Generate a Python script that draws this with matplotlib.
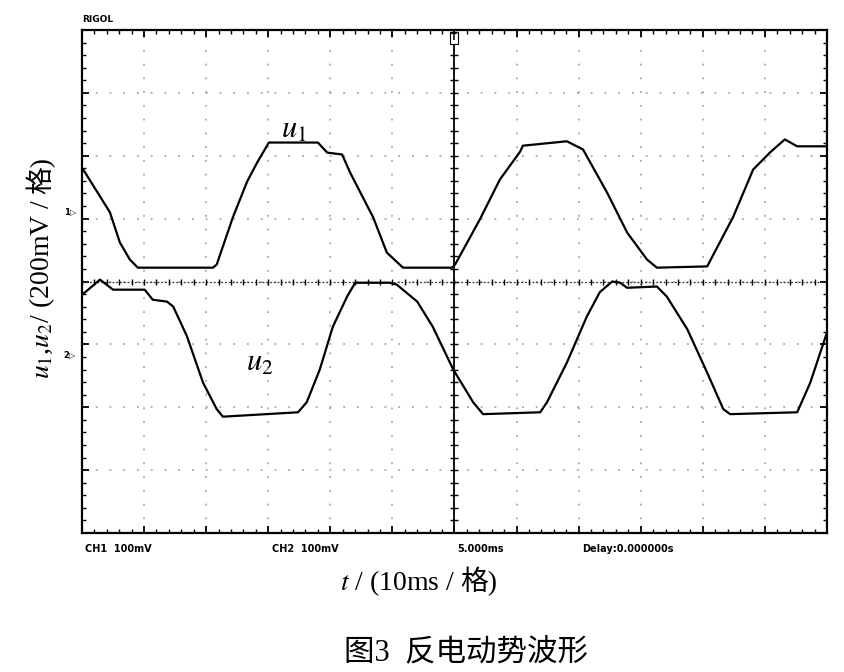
import numpy as np
import matplotlib
matplotlib.use("Agg")
import matplotlib.pyplot as plt

# ================= data (oscilloscope divisions) =================
# x: 0..12 div (10 ms/div), y: -4..4 div (200 mV/div)
u1_t = [0.02, 0.45, 0.61, 0.77, 0.90, 2.11, 2.17, 2.43, 2.66, 2.82, 3.01, 3.80,
        3.95, 4.19, 4.32, 4.69, 4.91, 5.17, 5.96, 6.01, 6.41, 6.73, 7.06, 7.10,
        7.81, 8.07, 8.46, 8.78, 9.10, 9.26, 10.07, 10.49, 10.81, 11.08, 11.32,
        11.52, 12.0]
u1_v = [1.78, 1.10, 0.62, 0.35, 0.22, 0.22, 0.27, 1.02, 1.59, 1.89, 2.21, 2.21,
        2.05, 2.02, 1.73, 1.02, 0.46, 0.22, 0.22, 0.27, 0.99, 1.62, 2.07, 2.16,
        2.23, 2.10, 1.41, 0.78, 0.35, 0.22, 0.24, 1.03, 1.78, 2.05, 2.26,
        2.15, 2.15]

u2_t = [0.0, 0.10, 0.29, 0.50, 1.01, 1.14, 1.37, 1.47, 1.69, 1.95, 2.17, 2.27,
        3.48, 3.62, 3.83, 4.04, 4.27, 4.40, 4.96, 5.07, 5.40, 5.65, 5.98, 6.30,
        6.46, 7.38, 7.49, 7.81, 8.13, 8.34, 8.54, 8.67, 8.78, 9.26, 9.42, 9.75,
        10.07, 10.33, 10.44, 11.52, 11.73, 12.0]
u2_v = [-0.21, -0.13, 0.03, -0.13, -0.13, -0.29, -0.32, -0.40, -0.87, -1.61,
        -2.03, -2.15, -2.08, -1.92, -1.40, -0.72, -0.24, -0.02, -0.02, -0.05,
        -0.32, -0.72, -1.40, -1.92, -2.11, -2.08, -1.92, -1.29, -0.56, -0.17,
        0.0, -0.02, -0.10, -0.08, -0.24, -0.76, -1.45, -2.03, -2.11, -2.08,
        -1.61, -0.81]

status_texts = ["CH1  100mV", "CH2  100mV", "5.000ms", "Delay:0.000000s"]
# labels in pieces: mathtext part + CJK part (mathtext has no CJK fallback)
xlabel_parts = [r"$t$ / (10ms /", "格)"]
ylabel_parts = [r"$u_1$,$u_2$/ (200mV /", "格)"]
caption = "图3  反电动势波形"
# =================================================================

plt.rcParams['font.family'] = ['Liberation Serif', 'Noto Sans CJK SC']
plt.rcParams['mathtext.fontset'] = 'stix'

W, H = 845, 672
fig = plt.figure(figsize=(W / 100, H / 100), dpi=100)
ax = fig.add_axes([82 / W, 1 - 533 / H, (827 - 82) / W, (533 - 30) / H])
ax.set_xlim(0, 12)
ax.set_ylim(-4, 4)

# scope graticule
ax.set_xticks(range(13))
ax.set_yticks(range(-4, 5))
ax.set_xticks(np.arange(0, 12.01, 0.2), minor=True)
ax.set_yticks(np.arange(-4, 4.01, 0.2), minor=True)
ax.tick_params(which='both', direction='in', top=True, right=True,
               labelbottom=False, labelleft=False, color='black')
ax.tick_params(which='major', length=5, width=1.3)
ax.tick_params(which='minor', length=3, width=1.0)
for s in ax.spines.values():
    s.set_linewidth(1.6)

ax.grid(True, which='major', color='#999999', linestyle=(0, (1.2, 7.8)),
        linewidth=1.1)

# centre axes with small cross ticks
ax.axhline(0, color='#333333', linestyle=(0, (1.5, 1.5)), linewidth=0.9)
ax.axvline(6, color='black', linewidth=1.3)
ax.plot(np.arange(0, 12.01, 0.2), np.zeros(61), '|', color='black',
        markersize=5, markeredgewidth=1.0)
ax.plot(np.full(41, 6.0), np.arange(-4, 4.01, 0.2), '_', color='black',
        markersize=6, markeredgewidth=1.0)

# traces
ax.plot(u1_t, u1_v, color='black', linewidth=1.6, solid_joinstyle='round')
ax.plot(u2_t, u2_v, color='black', linewidth=1.6, solid_joinstyle='round')

# trace labels
ax.text(3.42, 2.4, r"$u_1$", fontsize=22, ha='center', va='center')
ax.text(2.86, -1.3, r"$u_2$", fontsize=22, ha='center', va='center')

# channel and trigger markers
fig.text(70 / W, 1 - 212 / H, "1▷", fontsize=6, family=['DejaVu Sans'],
         ha='center', va='center', fontweight='bold')
fig.text(70 / W, 1 - 355 / H, "2▷", fontsize=6, family=['DejaVu Sans'],
         ha='center', va='center', fontweight='bold')
fig.text(454 / W, 1 - 38 / H, "T", fontsize=6, family=['DejaVu Sans'],
         ha='center', va='center', fontweight='bold',
         bbox=dict(boxstyle='square,pad=0.15', fc='white', ec='black', lw=0.8))

fig.text(82 / W, 1 - 20 / H, "RIGOL", fontsize=6.5, fontweight='bold',
         family=['Liberation Sans Narrow', 'DejaVu Sans'], ha='left', va='center')

# bottom status line
for txt, xp in zip(status_texts, [85, 272, 457, 582]):
    fig.text(xp / W, 1 - 549 / H, txt, fontsize=7, fontweight='bold',
             family=['Liberation Sans Narrow', 'DejaVu Sans'],
             ha='left', va='center')


def chained_label(parts, cx, cy, rot, size, gap=4):
    """draw text pieces one after another on a common baseline, centred"""
    renderer = fig.canvas.get_renderer()
    texts, lengths = [], []
    for p in parts:
        t = fig.text(0, 0, p, fontsize=size, rotation=rot,
                     rotation_mode='anchor', ha='left', va='baseline')
        bb = t.get_window_extent(renderer)
        texts.append(t)
        lengths.append((bb.width if rot == 0 else bb.height) + gap)
    total = sum(lengths) - gap
    pos = -total / 2
    for t, L in zip(texts, lengths):
        if rot == 0:
            t.set_position(((cx + pos) / W, 1 - cy / H))
        else:
            t.set_position((cx / W, 1 - cy / H + pos / H))
        pos += L


fig.canvas.draw()
chained_label(xlabel_parts, 419, 590, 0, 20, gap=5)
chained_label(ylabel_parts, 49, 268, 90, 20, gap=5)
fig.text(466 / W, 1 - 653 / H, caption, fontsize=22, ha='center', va='center')

fig.savefig("out.png", dpi=100)
